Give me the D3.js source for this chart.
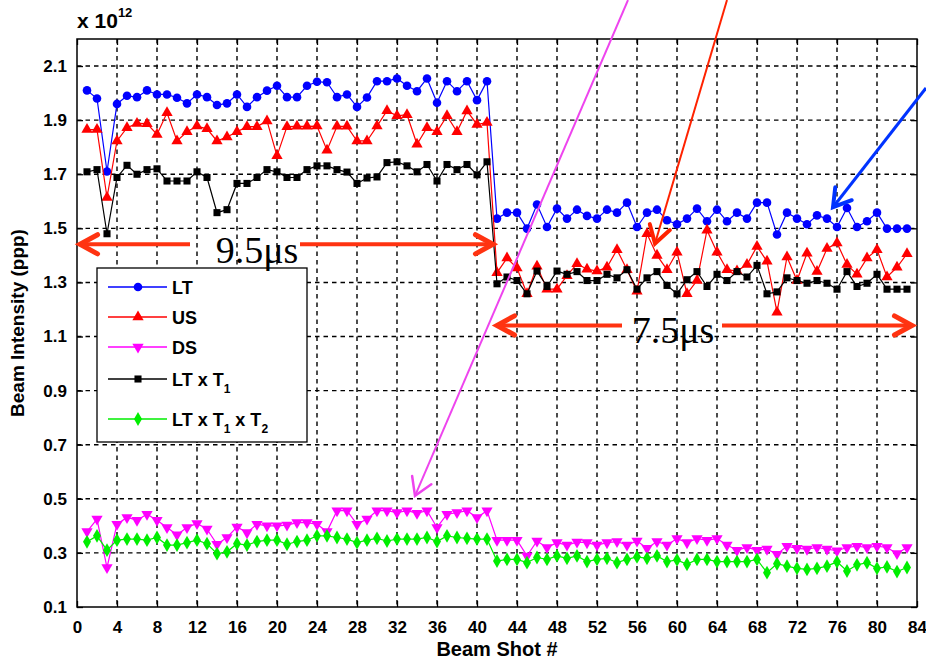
<!DOCTYPE html>
<html>
<head lang="en">
    <meta charset="UTF-8">
    <title>Beam Intensity</title>
    <script type="text/javascript" src="https://cdn.jsdelivr.net/npm/d3@7/dist/d3.min.js"></script>
    <style>
        body { margin: 0; background: #fff; }
        svg { font-family: Arial, "Liberation Sans", sans-serif; }
    </style>
</head>
<body>
<svg width="926" height="664"></svg>

<script>
    // beam shots 1..83
    var shots = d3.range(1, 84);

    var lt = [2.01, 1.98, 1.71, 1.96, 1.99, 1.985, 2.01, 1.995, 1.995, 1.983, 1.962, 1.995, 1.985, 1.956, 1.962, 1.995, 1.949, 1.985, 2.009, 2.027,
        1.985, 1.985, 2.027, 2.042, 2.04, 1.985, 1.995, 1.949, 1.984, 2.044, 2.044, 2.054, 2.027, 2.007, 2.054, 1.964, 2.044, 2.007, 2.044, 1.974,
        2.044, 1.536, 1.558, 1.558, 1.499, 1.588, 1.505, 1.573, 1.536, 1.569, 1.546, 1.536, 1.569, 1.558, 1.595, 1.505, 1.558, 1.569, 1.530, 1.515,
        1.536, 1.573, 1.526, 1.569, 1.526, 1.558, 1.536, 1.595, 1.595, 1.477, 1.558, 1.536, 1.515, 1.548, 1.536, 1.505, 1.575, 1.505, 1.526, 1.558,
        1.499, 1.499, 1.499];

    var us = [1.865, 1.865, 1.614, 1.823, 1.872, 1.888, 1.887, 1.847, 1.927, 1.823, 1.857, 1.878, 1.868, 1.823, 1.838, 1.857, 1.876, 1.876, 1.897, 1.768,
        1.876, 1.877, 1.877, 1.878, 1.789, 1.877, 1.877, 1.823, 1.823, 1.878, 1.935, 1.916, 1.92, 1.811, 1.872, 1.857, 1.916, 1.857, 1.934, 1.884,
        1.891, 1.336, 1.39, 1.353, 1.258, 1.36, 1.275, 1.275, 1.325, 1.369, 1.349, 1.342, 1.356, 1.421, 1.347, 1.267, 1.48, 1.40, 1.347, 1.412,
        1.258, 1.307, 1.493, 1.412, 1.347, 1.342, 1.366, 1.433, 1.378, 1.19, 1.394, 1.307, 1.408, 1.34, 1.425, 1.446, 1.366, 1.33, 1.39, 1.421,
        1.32, 1.356, 1.406];

    var ds = [0.379, 0.425, 0.246, 0.406, 0.431, 0.421, 0.443, 0.421, 0.394, 0.367, 0.394, 0.409, 0.388, 0.332, 0.357, 0.396, 0.375, 0.406, 0.40, 0.40,
        0.403, 0.412, 0.412, 0.406, 0.379, 0.456, 0.456, 0.406, 0.425, 0.456, 0.456, 0.449, 0.456, 0.447, 0.456, 0.394, 0.443, 0.449, 0.456, 0.431,
        0.456, 0.347, 0.347, 0.347, 0.289, 0.344, 0.32, 0.338, 0.329, 0.34, 0.338, 0.329, 0.338, 0.342, 0.329, 0.344, 0.317, 0.342, 0.329, 0.353,
        0.338, 0.353, 0.347, 0.353, 0.329, 0.31, 0.32, 0.31, 0.314, 0.295, 0.325, 0.317, 0.314, 0.32, 0.314, 0.308, 0.32, 0.325, 0.32, 0.325,
        0.32, 0.298, 0.32];

    var ltT1 = [1.709, 1.717, 1.48, 1.688, 1.733, 1.70, 1.717, 1.72, 1.675, 1.675, 1.675, 1.709, 1.688, 1.558, 1.569, 1.666, 1.666, 1.688, 1.717, 1.709,
        1.688, 1.688, 1.717, 1.731, 1.731, 1.717, 1.708, 1.666, 1.686, 1.69, 1.743, 1.746, 1.731, 1.709, 1.736, 1.675, 1.736, 1.717, 1.736, 1.698,
        1.746, 1.295, 1.32, 1.307, 1.258, 1.342, 1.285, 1.342, 1.33, 1.34, 1.307, 1.307, 1.33, 1.317, 1.347, 1.275, 1.317, 1.34, 1.289, 1.258,
        1.31, 1.34, 1.285, 1.33, 1.307, 1.34, 1.32, 1.363, 1.258, 1.265, 1.317, 1.307, 1.297, 1.307, 1.297, 1.275, 1.34, 1.285, 1.297, 1.33,
        1.275, 1.275, 1.275];

    var ltT1T2 = [0.341, 0.363, 0.31, 0.347, 0.351, 0.351, 0.347, 0.357, 0.329, 0.329, 0.338, 0.347, 0.334, 0.297, 0.304, 0.334, 0.329, 0.342, 0.347, 0.347,
        0.332, 0.342, 0.347, 0.363, 0.363, 0.357, 0.351, 0.338, 0.347, 0.354, 0.344, 0.351, 0.351, 0.351, 0.357, 0.342, 0.363, 0.357, 0.354, 0.351,
        0.351, 0.27, 0.276, 0.276, 0.264, 0.283, 0.276, 0.289, 0.28, 0.289, 0.268, 0.276, 0.28, 0.264, 0.276, 0.285, 0.28, 0.289, 0.268, 0.274,
        0.258, 0.276, 0.276, 0.268, 0.268, 0.268, 0.268, 0.276, 0.227, 0.26, 0.251, 0.243, 0.239, 0.243, 0.251, 0.267, 0.233, 0.256, 0.264, 0.243,
        0.248, 0.231, 0.246];

    var xTicks = d3.range(0, 85, 4);
    var yTicks = [0.1, 0.3, 0.5, 0.7, 0.9, 1.1, 1.3, 1.5, 1.7, 1.9, 2.1];

    var series = [
        {name: "LT", values: lt, color: "#0000ff", symbol: d3.symbolCircle, size: 58, rot: 0},
        {name: "US", values: us, color: "#ff0000", symbol: d3.symbolTriangle, size: 55, rot: 0},
        {name: "DS", values: ds, color: "#ff00ff", symbol: d3.symbolTriangle, size: 55, rot: 180},
        {name: "LT × T1", values: ltT1, color: "#000000", symbol: d3.symbolSquare, size: 50, rot: 0},
        {name: "LT × T1 × T2", values: ltT1T2, color: "#00ee00", symbol: d3.symbolDiamond, size: 55, rot: 0}
    ];

    // annotations in data units
    var spanArrows = [
        {x1: 0.3, x2: 41.6, y: 1.441, label: "9.5μs", lx: 18, ly: 1.372, gap: [11.3, 22.3]},
        {x1: 42.0, x2: 83.5, y: 1.141, label: "7.5μs", lx: 59.6, ly: 1.076, gap: [54.5, 64.5]}
    ];
    var pointers = [
        {x1: 55.1, y1: 2.344, x2: 33.8, y2: 0.511, color: "#ee44ee", w: 2, head: 2.5},
        {x1: 65.0, y1: 2.344, x2: 57.8, y2: 1.444, color: "#ff2200", w: 2, head: 4},
        {x1: 84.9, y1: 2.019, x2: 75.6, y2: 1.578, color: "#0033ff", w: 3, head: 4}
    ];

    var margin = {top: 39, right: 9, bottom: 57, left: 77};
    var svg = d3.select("svg");
    var width = 926 - margin.left - margin.right;
    var height = 664 - margin.top - margin.bottom;

    var x = d3.scaleLinear().domain([0, 84]).range([0, width]);
    var y = d3.scaleLinear().domain([0.1, 2.2]).range([height, 0]);

    var g = svg.append("g").attr("transform", "translate(" + margin.left + "," + margin.top + ")");

    // grid
    g.append("g").selectAll("line").data(xTicks.slice(1, -1)).enter().append("line")
        .attr("x1", function (d) { return x(d); }).attr("x2", function (d) { return x(d); })
        .attr("y1", 0).attr("y2", height)
        .attr("stroke", "#000").attr("stroke-width", 1.4).attr("stroke-dasharray", "4.5,4");
    g.append("g").selectAll("line").data(yTicks.slice(1)).enter().append("line")
        .attr("y1", function (d) { return y(d); }).attr("y2", function (d) { return y(d); })
        .attr("x1", 0).attr("x2", width)
        .attr("stroke", "#000").attr("stroke-width", 1.4).attr("stroke-dasharray", "4.5,4");

    // axes
    var xAxis = g.append("g").attr("transform", "translate(0," + height + ")")
        .call(d3.axisBottom(x).tickValues(xTicks).tickSizeInner(-6).tickSizeOuter(0).tickPadding(14));
    var yAxis = g.append("g")
        .call(d3.axisLeft(y).tickValues(yTicks).tickFormat(d3.format(".1f")).tickSizeInner(-6).tickSizeOuter(0).tickPadding(10));
    g.append("g").attr("transform", "translate(" + width + ",0)")
        .call(d3.axisRight(y).tickValues(yTicks).tickSizeInner(-6).tickSizeOuter(0).tickFormat(""));
    g.append("g")
        .call(d3.axisTop(x).tickValues(xTicks).tickSizeInner(-6).tickSizeOuter(0).tickFormat(""));
    g.selectAll(".domain").remove();
    g.selectAll(".tick line").attr("stroke", "#000").attr("stroke-width", 1.3);
    [xAxis, yAxis].forEach(function (a) {
        a.selectAll("text").attr("font-size", 17).attr("font-weight", "bold").attr("fill", "#000")
            .attr("font-family", "Arial, 'Liberation Sans', sans-serif");
    });
    g.append("rect").attr("width", width).attr("height", height)
        .attr("fill", "none").attr("stroke", "#000").attr("stroke-width", 1.5);

    // series
    var line = d3.line()
        .x(function (d, i) { return x(shots[i]); })
        .y(function (d) { return y(d); });

    series.forEach(function (s) {
        g.append("path").datum(s.values)
            .attr("fill", "none").attr("stroke", s.color).attr("stroke-width", 1.2)
            .attr("d", line);
        g.append("g").selectAll("path").data(s.values).enter().append("path")
            .attr("d", d3.symbol().type(s.symbol).size(s.size))
            .attr("fill", s.color)
            .attr("transform", function (d, i) {
                return "translate(" + x(shots[i]) + "," + y(d) + ") rotate(" + s.rot + ")";
            });
    });

    // legend
    var legend = g.append("g").attr("transform", "translate(20,229)");
    legend.append("rect").attr("width", 210).attr("height", 174)
        .attr("fill", "#fff").attr("stroke", "#000").attr("stroke-width", 1.3);
    var legendY = [19, 49, 79, 111, 151];
    series.forEach(function (s, i) {
        var row = legend.append("g").attr("transform", "translate(0," + legendY[i] + ")");
        row.append("line").attr("x1", 11).attr("x2", 70).attr("stroke", s.color).attr("stroke-width", 1.3);
        row.append("path").attr("d", d3.symbol().type(s.symbol).size(s.size)())
            .attr("fill", s.color).attr("transform", "translate(41,0) rotate(" + s.rot + ")");
        var t = row.append("text").attr("x", 75).attr("y", 7)
            .attr("font-size", 18).attr("font-weight", "bold");
        if (i < 3) {
            t.text(s.name);
        } else {
            t.append("tspan").text("LT x T");
            t.append("tspan").attr("font-size", 12).attr("dy", 7).text("1");
            if (i === 4) {
                t.append("tspan").attr("dy", -7).text(" x T");
                t.append("tspan").attr("font-size", 12).attr("dy", 7).text("2");
            }
        }
    });

    // annotations
    var red = "#ff3311";
    function chevron(px, py, ang, len, spread) {
        var a1 = ang + spread, a2 = ang - spread;
        return "M" + (px - len * Math.cos(a1)) + "," + (py - len * Math.sin(a1)) +
            "L" + px + "," + py +
            "L" + (px - len * Math.cos(a2)) + "," + (py - len * Math.sin(a2));
    }
    var ann = svg.append("g").attr("transform", "translate(" + margin.left + "," + margin.top + ")");
    spanArrows.forEach(function (a) {
        var yy = y(a.y);
        ann.append("line").attr("x1", x(a.x1)).attr("x2", x(a.gap[0])).attr("y1", yy).attr("y2", yy)
            .attr("stroke", red).attr("stroke-width", 4);
        ann.append("line").attr("x1", x(a.gap[1])).attr("x2", x(a.x2)).attr("y1", yy).attr("y2", yy)
            .attr("stroke", red).attr("stroke-width", 4);
        ann.append("path").attr("d", chevron(x(a.x1), yy, Math.PI, 20, 0.5))
            .attr("fill", "none").attr("stroke", red).attr("stroke-width", 5).attr("stroke-linecap", "round");
        ann.append("path").attr("d", chevron(x(a.x2), yy, 0, 20, 0.5))
            .attr("fill", "none").attr("stroke", red).attr("stroke-width", 5).attr("stroke-linecap", "round");
        ann.append("text").attr("x", x(a.lx)).attr("y", y(a.ly)).attr("text-anchor", "middle")
            .style("font-family", "'Liberation Serif', 'Times New Roman', serif")
            .attr("font-size", 38).attr("fill", "#000").text(a.label);
    });
    pointers.forEach(function (p) {
        var x1 = x(p.x1), y1 = y(p.y1), x2 = x(p.x2), y2 = y(p.y2);
        var ang = Math.atan2(y2 - y1, x2 - x1);
        ann.append("line").attr("x1", x1).attr("y1", y1).attr("x2", x2).attr("y2", y2)
            .attr("stroke", p.color).attr("stroke-width", p.w);
        ann.append("path").attr("d", chevron(x2, y2, ang, 20, 0.55))
            .attr("fill", "none").attr("stroke", p.color).attr("stroke-width", p.head)
            .attr("stroke-linecap", "round").attr("stroke-linejoin", "miter");
    });

    // labels
    var lab = svg.append("text").attr("x", margin.left).attr("y", 28)
        .attr("font-size", 21).attr("font-weight", "bold");
    lab.append("tspan").text("x 10");
    lab.append("tspan").attr("font-size", 13).attr("dy", -11).text("12");

    svg.append("text").attr("x", margin.left + width / 2).attr("y", 656).attr("text-anchor", "middle")
        .attr("font-size", 20).attr("font-weight", "bold").text("Beam Shot #");
    svg.append("text").attr("transform", "translate(24," + (margin.top + height / 2) + ") rotate(-90)")
        .attr("text-anchor", "middle").attr("font-size", 19).attr("font-weight", "bold")
        .text("Beam Intensity (ppp)");
</script>
</body>
</html>
